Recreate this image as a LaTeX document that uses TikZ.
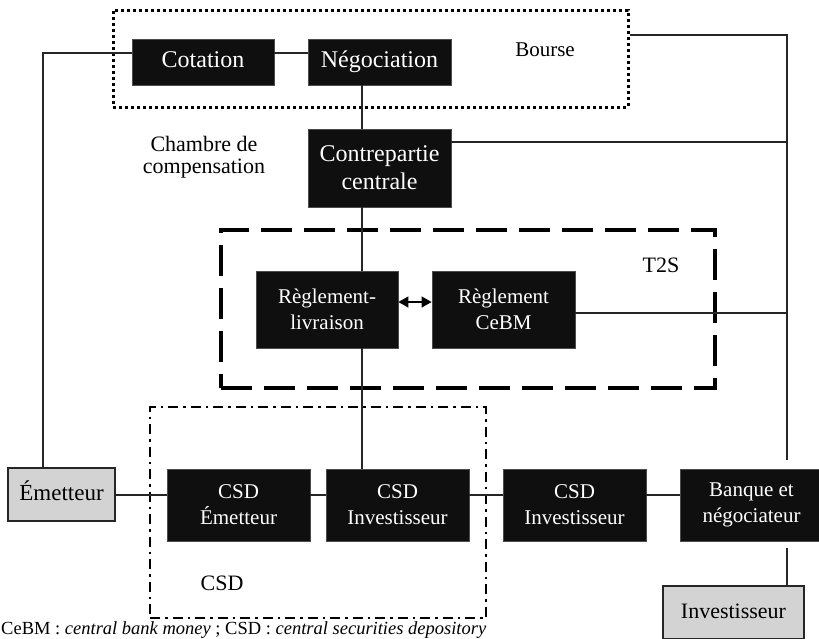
\documentclass[tikz,border=0pt]{standalone}
\usepackage{fontspec}
\setmainfont{Liberation Serif}
\usetikzlibrary{arrows.meta}
\definecolor{boxblack}{RGB}{15,15,15}
\definecolor{boxgray}{RGB}{211,211,211}
\begin{document}
\begin{tikzpicture}[x=1pt,y=-1pt,
  blk/.style={fill=boxblack, draw=black!70, line width=0.8pt, text=white, align=center, inner sep=0pt},
  gry/.style={fill=boxgray, draw=black!85, line width=1.5pt, align=center, inner sep=0pt},
  conn/.style={line width=1.2pt, draw=black!85},
  bigtxt/.style={font=\fontsize{24pt}{28pt}\selectfont},
  midtxt/.style={font=\fontsize{21pt}{26pt}\selectfont},
  oneline/.style={text height=16pt, text depth=5pt},
  lbltxt/.style={font=\fontsize{22pt}{22pt}\selectfont, align=center, inner sep=0pt},
  dotbox/.style={draw=black, line width=3pt, dash pattern=on 3pt off 3pt, minimum width=515pt, minimum height=97pt, inner sep=0pt},
  dashbox/.style={draw=black, line width=4pt, dash pattern=on 31pt off 12pt, minimum width=494pt, minimum height=158pt, inner sep=0pt},
  dashdotbox/.style={draw=black, line width=2pt, dash pattern=on 10pt off 5pt on 2.5pt off 5pt, minimum width=336pt, minimum height=211pt, inner sep=0pt},
  arr/.style={line width=1.2pt, {Triangle[length=10pt,width=11pt]}-{Triangle[length=10pt,width=11pt]}}
]
\useasboundingbox (0,0) rectangle (819,638);

% group frames
\node[dotbox] (bourse) at (370.5,58.5) {};
\node[dashbox] (t2s) at (468,309) {};
\node[dashdotbox] (csd) at (318,512.5) {};

% labels
\node[lbltxt, anchor=base, font=\fontsize{21pt}{22pt}\selectfont] (lbourse) at (545,56) {Bourse};
\node[lbltxt, font=\fontsize{22pt}{22pt}\selectfont] (lchambre) at (204,157) {Chambre de\\compensation};
\node[lbltxt, anchor=base] (lt2s) at (661,272) {T2S};
\node[lbltxt, anchor=base] (lcsd) at (222,590) {CSD};

% boxes
\node[blk, bigtxt, oneline, minimum width=142pt, minimum height=46pt] (cot) at (203,62) {Cotation};
\node[blk, bigtxt, oneline, minimum width=143pt, minimum height=46pt] (neg) at (379.5,62) {Négociation};
\node[blk, bigtxt, minimum width=143pt, minimum height=78pt] (cc) at (379.5,168) {Contrepartie\\centrale};
\node[blk, midtxt, minimum width=142pt, minimum height=77pt] (rl) at (327,309.5) {Règlement-\\livraison};
\node[blk, midtxt, minimum width=143pt, minimum height=77pt] (ceb) at (503.5,309.5) {Règlement\\CeBM};
\node[blk, midtxt, minimum width=143pt, minimum height=72pt] (csde) at (238.5,505) {CSD\\Émetteur};
\node[blk, midtxt, minimum width=143pt, minimum height=72pt] (csdi) at (397.5,505) {CSD\\Investisseur};
\node[blk, midtxt, minimum width=143pt, minimum height=72pt] (csdi2) at (574.5,505) {CSD\\Investisseur};
\node[blk, midtxt, minimum width=143pt, minimum height=72pt] (banq) at (751.5,505) {Banque et\\négociateur};
\node[gry, oneline, font=\fontsize{23pt}{26pt}\selectfont, minimum width=107pt, minimum height=53pt] (emet) at (61.5,494.5) {Émetteur};
\node[gry, oneline, font=\fontsize{22pt}{26pt}\selectfont, minimum width=141pt, minimum height=53pt] (inv) at (733.5,612.5) {Investisseur};

% connector helper coordinates
\coordinate (L) at (43,53);
\coordinate (V) at (362,0);
\coordinate (R1) at (787,35);
\coordinate (R2) at (787,142);
\coordinate (R3) at (787,313);
\coordinate (Rend) at (787,460);
\coordinate (A) at (0,302);
\coordinate (B) at (0,495);
\coordinate (Bq) at (787,548);

% connectors
\draw[conn] (cot.west |- L) -- (L) -- (L |- emet.north);
\draw[conn] (cot.east |- L) -- (neg.west |- L);
\draw[conn] (V |- neg.south) -- (V |- cc.north);
\draw[conn] (V |- cc.south) -- (V |- rl.north);
\draw[conn] (V |- rl.south) -- (V |- csdi.north);
\draw[conn] (bourse.east |- R1) -- (R1) -- (Rend);
\draw[conn] (cc.east |- R2) -- (R2);
\draw[conn] (ceb.east |- R3) -- (R3);
\draw[arr] (rl.east |- A) -- (ceb.west |- A);
\draw[conn] (emet.east |- B) -- (csde.west |- B);
\draw[conn] (csde.east |- B) -- (csdi.west |- B);
\draw[conn] (csdi.east |- B) -- (csdi2.west |- B);
\draw[conn] (csdi2.east |- B) -- (banq.west |- B);
\draw[conn] (Bq) -- (Bq |- inv.north);

% caption
\node[anchor=base west, inner sep=0pt, font=\fontsize{18.5pt}{22pt}\selectfont] (cap) at (1,634.5) {CeBM : \textit{central bank money} ; CSD : \textit{central securities depository}};
\end{tikzpicture}
\end{document}
